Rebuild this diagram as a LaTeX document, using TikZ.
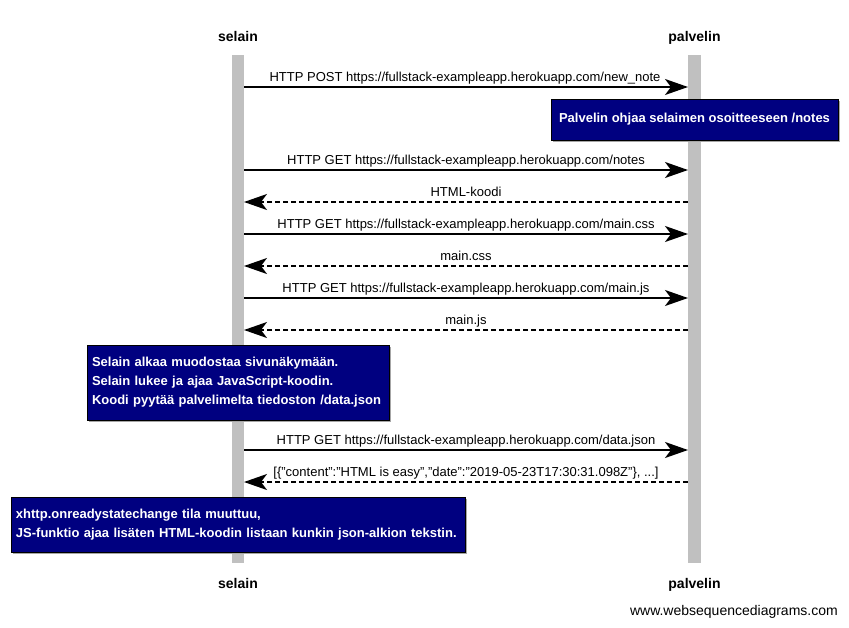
\documentclass[tikz,border=0pt]{standalone}
\usepackage{fontspec}
\setmainfont{Liberation Sans}
\usetikzlibrary{arrows.meta,shadows,calc}

\definecolor{lifegray}{HTML}{C0C0C0}
\definecolor{notebg}{HTML}{000080}

\newcommand{\q}{\symbol{34}}

\tikzset{
  actor/.style={font=\fontsize{14}{16}\selectfont\bfseries, inner sep=0pt, anchor=base},
  msg/.style={font=\fontsize{13}{15}\selectfont, inner sep=0pt, anchor=base},
  call/.style={line width=1.6pt, -{Stealth[length=23pt,width=16pt,inset=6pt]}},
  reply/.style={call, dash pattern=on 5pt off 3pt},
  note/.style={fill=notebg, draw=black, line width=0.4pt, text=white,
    font=\fontsize{13}{19}\selectfont\bfseries, inner xsep=5pt, inner ysep=0pt,
    drop shadow={shadow xshift=2pt, shadow yshift=-2pt, fill=gray!70, opacity=1}},
  life/.style={fill=lifegray, draw=none}
}

\begin{document}
\begin{tikzpicture}[x=1pt,y=-1pt]
    \useasboundingbox (0,0) rectangle (849,627);

    \fill[life] (232,55) rectangle (244,563);
    \fill[life] (688,55) rectangle (701,563);

    \node[actor] (selaintop) at (238,41) {selain};
    \node[actor] (palvelintop) at (694.5,41) {palvelin};
    \node[actor] (selainbot) at (238,588) {selain};
    \node[actor] (palvelinbot) at (694.5,588) {palvelin};

    \coordinate (s1) at (244,87);   \coordinate (p1) at (688,87);
    \coordinate (s2) at (244,170);  \coordinate (p2) at (688,170);
    \coordinate (s3) at (244,202);  \coordinate (p3) at (688,202);
    \coordinate (s4) at (244,234);  \coordinate (p4) at (688,234);
    \coordinate (s5) at (244,266);  \coordinate (p5) at (688,266);
    \coordinate (s6) at (244,298);  \coordinate (p6) at (688,298);
    \coordinate (s7) at (244,330);  \coordinate (p7) at (688,330);
    \coordinate (s8) at (244,450);  \coordinate (p8) at (688,450);
    \coordinate (s9) at (244,482);  \coordinate (p9) at (688,482);

    \draw[call] (s1) -- (p1);
    \draw[call] (s2) -- (p2);
    \draw[reply] (p3) -- (s3);
    \draw[call] (s4) -- (p4);
    \draw[reply] (p5) -- (s5);
    \draw[call] (s6) -- (p6);
    \draw[reply] (p7) -- (s7);
    \draw[call] (s8) -- (p8);
    \draw[reply] (p9) -- (s9);

    \node[msg] (m1) at (465,81) {HTTP POST https://fullstack-exampleapp.herokuapp.com/new\_note};
    \node[msg] (m2) at (466,164) {HTTP GET https://fullstack-exampleapp.herokuapp.com/notes};
    \node[msg] (m3) at (466,196) {HTML-koodi};
    \node[msg] (m4) at (466,228) {HTTP GET https://fullstack-exampleapp.herokuapp.com/main.css};
    \node[msg] (m5) at (466,260) {main.css};
    \node[msg] (m6) at (466,292) {HTTP GET https://fullstack-exampleapp.herokuapp.com/main.js};
    \node[msg] (m7) at (466,324) {main.js};
    \node[msg] (m8) at (466,444) {HTTP GET https://fullstack-exampleapp.herokuapp.com/data.json};
    \node[msg] (m9) at (466,476) {[\{\q content\q:\q HTML is easy\q,\q date\q:\q 2019-05-23T17:30:31.098Z\q\}, ...]};

    \node[note, minimum width=287pt, minimum height=41pt, align=center] (n1) at (694.5,119.5)
      {Palvelin ohjaa selaimen osoitteeseen /notes};
    \node[note, text width=292pt, minimum height=75pt, align=left] (n2) at (238,382.5)
      {Selain alkaa muodostaa sivunäkymään.\\Selain lukee ja ajaa JavaScript-koodin.\\Koodi pyytää palvelimelta tiedoston /data.json};
    \node[note, text width=444pt, minimum height=55pt, align=left] (n3) at (238,524.5)
      {xhttp.onreadystatechange tila muuttuu,\\JS-funktio ajaa lisäten HTML-koodin listaan kunkin json-alkion tekstin.};

    \node[msg, anchor=base east] (footer) at (838,615) {\fontsize{14}{16}\selectfont www.websequencediagrams.com};
\end{tikzpicture}
\end{document}
